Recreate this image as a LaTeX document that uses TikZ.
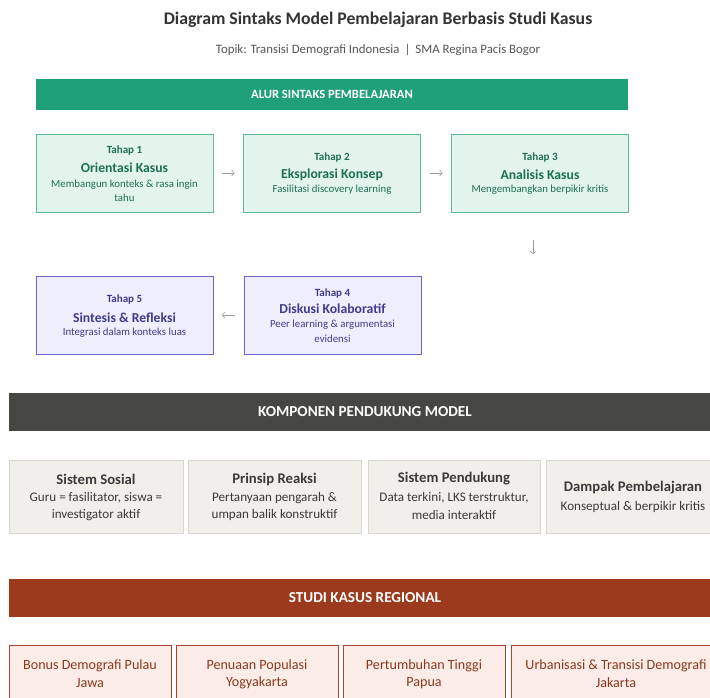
\documentclass[tikz,border=0pt]{standalone}
\usepackage{fontspec}
\setmainfont{Carlito}
\usetikzlibrary{arrows.meta}
\definecolor{titlegray}{HTML}{333333}
\definecolor{subgray}{HTML}{555555}
\definecolor{barGreen}{RGB}{31,160,120}
\definecolor{gFill}{HTML}{E2F4EC}
\definecolor{gBorder}{HTML}{5DBB94}
\definecolor{gText}{HTML}{1F6F55}
\definecolor{pFill}{HTML}{EEEEFC}
\definecolor{pBorder}{HTML}{6F66CC}
\definecolor{pText}{HTML}{3F3C8F}
\definecolor{arrowGray}{HTML}{999999}
\definecolor{barDark}{HTML}{474741}
\definecolor{cFill}{HTML}{F1EFEA}
\definecolor{cBorder}{HTML}{D9D6CF}
\definecolor{cText}{HTML}{3A3A3A}
\definecolor{barBrown}{HTML}{9B3A1D}
\definecolor{rFill}{HTML}{FBECE7}
\definecolor{rBorder}{HTML}{A5472E}
\definecolor{rText}{HTML}{8A3A1E}
\tikzset{
  every node/.style={inner sep=0pt, outer sep=0pt},
  sectionbar/.style={minimum height=38pt, text=white, font=\fontsize{15.2}{18}\selectfont\bfseries},
  greenstage/.style={draw=gBorder, fill=gFill, line width=0.8pt, minimum width=177pt, minimum height=78pt},
  purplestage/.style={draw=pBorder, fill=pFill, line width=0.8pt, minimum width=177pt, minimum height=78pt},
  stagenum/.style={font=\fontsize{11}{13}\selectfont\bfseries},
  stagename/.style={font=\fontsize{13.7}{16}\selectfont\bfseries},
  stagedesc/.style={font=\fontsize{10.8}{13}\selectfont},
  compbox/.style={draw=cBorder, fill=cFill, line width=0.8pt, minimum height=73pt},
  comptitle/.style={text=cText, font=\fontsize{14.7}{17}\selectfont\bfseries},
  compdesc/.style={text=cText, font=\fontsize{13.1}{15}\selectfont},
  regionbox/.style={draw=rBorder, fill=rFill, line width=0.8pt, minimum height=80pt},
  regiontext/.style={text=rText, font=\fontsize{14.1}{17}\selectfont},
  flowarrow/.style={draw=arrowGray, line width=0.6pt, -{Straight Barb[length=2.5pt,width=6pt]}},
}
\begin{document}
\begin{tikzpicture}[x=1pt,y=-1pt]
\clip (0,0) rectangle (710,697);
\fill[white] (0,0) rectangle (710,697);

% title
\node[text=titlegray, font=\fontsize{17.7}{21}\selectfont\bfseries] (title) at (378,20) {Diagram Sintaks Model Pembelajaran Berbasis Studi Kasus};
\node[text=subgray, font=\fontsize{12.8}{15}\selectfont] (subtitle) at (378,50) {Topik: Transisi Demografi Indonesia \,|\, SMA Regina Pacis Bogor};

% green bar
\node[fill=barGreen, minimum width=592pt, minimum height=31pt, text=white, font=\fontsize{12.6}{15}\selectfont\bfseries] (alur) at (332,94.5) {ALUR SINTAKS PEMBELAJARAN};

% stage boxes
\node[greenstage] (s1) at (124.5,173) {};
\node[greenstage] (s2) at (332,173) {};
\node[greenstage] (s3) at (540,173) {};
\node[purplestage] (s4) at (332.5,315) {};
\node[purplestage] (s5) at (124.5,315) {};

\begin{scope}[every node/.append style={text=gText}]
\node[stagenum] (s1a) at (124.5,151) {Tahap 1};
\node[stagename] (s1b) at (124.5,168) {Orientasi Kasus};
\node[stagedesc] (s1c) at (124.5,185) {Membangun konteks \& rasa ingin};
\node[stagedesc] (s1d) at (124.5,198) {tahu};
\node[stagenum] (s2a) at (332,158) {Tahap 2};
\node[stagename] (s2b) at (332,175) {Eksplorasi Konsep};
\node[stagedesc] (s2c) at (332,190) {Fasilitasi discovery learning};
\node[stagenum] (s3a) at (540,158) {Tahap 3};
\node[stagename] (s3b) at (540,175) {Analisis Kasus};
\node[stagedesc] (s3c) at (540,190) {Mengembangkan berpikir kritis};
\end{scope}
\begin{scope}[every node/.append style={text=pText}]
\node[stagenum] (s4a) at (332.5,293) {Tahap 4};
\node[stagename] (s4b) at (332.5,309) {Diskusi Kolaboratif};
\node[stagedesc] (s4c) at (332.5,325) {Peer learning \& argumentasi};
\node[stagedesc] (s4d) at (332.5,339) {evidensi};
\node[stagenum] (s5a) at (124.5,299) {Tahap 5};
\node[stagename] (s5b) at (124.5,318) {Sintesis \& Refleksi};
\node[stagedesc] (s5c) at (124.5,333) {Integrasi dalam konteks luas};
\end{scope}

% arrows
\draw[flowarrow, shorten <=9pt, shorten >=9pt] (s1.east) -- (s2.west);
\draw[flowarrow, shorten <=9pt, shorten >=9pt] (s2.east) -- (s3.west);
\coordinate (d1) at (533,240);
\coordinate (d2) at (533,254);
\draw[flowarrow] (d1) -- (d2);
\draw[flowarrow, shorten <=9pt, shorten >=9pt] (s4.west) -- (s5.east);

% components bar
\node[sectionbar, fill=barDark, minimum width=712pt] (komp) at (365,412) {KOMPONEN PENDUKUNG MODEL};
\node[compbox, minimum width=174pt] (c1) at (96,496.5) {};
\node[compbox, minimum width=173pt] (c2) at (274.5,496.5) {};
\node[compbox, minimum width=172pt] (c3) at (454,496.5) {};
\node[compbox, minimum width=174pt] (c4) at (633,496.5) {};
\node[comptitle] (c1a) at (96,479) {Sistem Sosial};
\node[compdesc] (c1b) at (96,498) {Guru = fasilitator, siswa =};
\node[compdesc] (c1c) at (96,515) {investigator aktif};
\node[comptitle] (c2a) at (274.5,479) {Prinsip Reaksi};
\node[compdesc] (c2b) at (274.5,498) {Pertanyaan pengarah \&};
\node[compdesc] (c2c) at (274.5,515) {umpan balik konstruktif};
\node[comptitle] (c3a) at (454,479) {Sistem Pendukung};
\node[compdesc] (c3b) at (454,498) {Data terkini, LKS terstruktur,};
\node[compdesc] (c3c) at (454,515) {media interaktif};
\node[comptitle] (c4a) at (633,488) {Dampak Pembelajaran};
\node[compdesc] (c4b) at (633,507) {Konseptual \& berpikir kritis};

% regional bar
\node[sectionbar, fill=barBrown, minimum width=712pt] (studi) at (365,598) {STUDI KASUS REGIONAL};
\node[regionbox, minimum width=162pt] (r1) at (90,685) {};
\node[regionbox, minimum width=162pt] (r2) at (257,685) {};
\node[regionbox, minimum width=162pt] (r3) at (424,685) {};
\node[regionbox, minimum width=210pt] (r4) at (616,685) {};
\node[regiontext] (r1a) at (90,666) {Bonus Demografi Pulau};
\node[regiontext] (r1b) at (90,683) {Jawa};
\node[regiontext] (r2a) at (257,666) {Penuaan Populasi};
\node[regiontext] (r2b) at (257,683) {Yogyakarta};
\node[regiontext] (r3a) at (424,666) {Pertumbuhan Tinggi};
\node[regiontext] (r3b) at (424,683) {Papua};
\node[regiontext] (r4a) at (616,666) {Urbanisasi \& Transisi Demografi};
\node[regiontext] (r4b) at (616,683) {Jakarta};
\end{tikzpicture}
\end{document}
